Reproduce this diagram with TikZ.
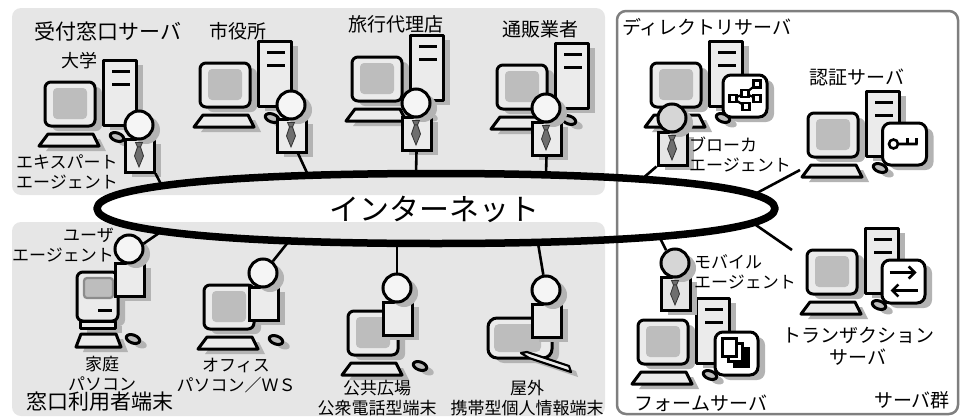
\documentclass[tikz,border=0pt]{standalone}
\usepackage{fontspec}
\usepackage{xcolor}
\usetikzlibrary{shadows,arrows.meta}

\newfontfamily\jp{Noto Sans CJK JP}

\definecolor{panelgray}{HTML}{E6E6E6}
\definecolor{partgray}{HTML}{EBEBEB}
\definecolor{screengray}{HTML}{BDBDBD}
\definecolor{shadegray}{HTML}{B3B3B3}
\definecolor{framegray}{HTML}{7F7F7F}
\definecolor{tiegray}{HTML}{6E6E6E}

\begin{document}
\begin{tikzpicture}[x=1pt, y=-1pt,
        cast/.style = {drop shadow={shadow xshift=7pt, shadow yshift=-5pt, fill=shadegray, opacity=1}},
        panel/.style = {fill=panelgray, rounded corners=9},
        part/.style = {draw, line width=3, line join=round, fill=partgray, cast},
        screen/.style = {fill=screengray},
        head/.style = {draw, circle, line width=3, fill=black!4, minimum size=28, inner sep=0, cast},
        body/.style = {draw, line width=3, fill=black!8, minimum width=29, minimum height=33, inner sep=0, cast},
        tie/.style = {draw=black!80, line width=0.8, fill=tiegray},
        badge/.style = {draw, line width=3, fill=white, rounded corners=8, cast},
        link/.style = {line width=2.6},
        ring/.style = {line width=7.5, line join=round},
        net/.style = {font=\jp\fontsize{30}{32}\selectfont, inner sep=0},
        title/.style = {font=\jp\fontsize{21}{24}\selectfont, inner sep=0},
        label/.style = {font=\jp\fontsize{19}{22}\selectfont, inner sep=0, align=center},
        note/.style = {font=\jp\fontsize{17}{20}\selectfont, inner sep=0, align=center},
        desk/.pic = {
            \draw[part, rounded corners=6] (0,0) rectangle (50,44);
            \fill[screen, rounded corners=4] (8,6) rectangle (42,37);
            \draw[part] (3,52) -- (48,52) -- (54,64) -- (-6,64) -- cycle;
            \draw[part, fill=screengray, rotate around={-20:(72,55)}] (72,55) ellipse [x radius=7, y radius=4];
        },
        pc/.pic = {
            \pic {desk};
            \draw[part] (58,-22) rectangle (91,43);
            \draw[line width=3] (67,-11) -- (85,-11) (67,2) -- (85,2);
        },
        mac/.pic = {
            \draw[part, rounded corners=6] (0,0) rectangle (41,49);
            \draw[screen, draw=black!45, line width=2.2, rounded corners=3] (7,6) rectangle (36,26);
            \draw[line width=3] (21,38) -- (35,38);
            \draw[part] (3,49) rectangle (38,56);
            \draw[part] (4,62) -- (39,62) -- (44,75) -- (-1,75) -- cycle;
            \draw[part, fill=screengray, rotate around={-20:(56,67)}] (56,67) ellipse [x radius=7, y radius=4];
        },
        user/.pic = {
            \node[body] (-body) at (0.5,30.5) {};
            \node[head] (-head) at (0,0) {};
        },
        agent/.pic = {
            \node[body] (-body) at (0.5,30.5) {};
            \node[head] (-head) at (0,0) {};
            \draw[tie] (-3.5,17.5) -- (3.5,17.5) -- (1.5,22) -- (-1.5,22) -- cycle;
            \draw[tie] (-1.5,22) -- (1.5,22) -- (4.5,31) -- (0,42) -- (-4.5,31) -- cycle;
        },
        netbadge/.pic = {
            \draw[badge] (-22,-21) rectangle (22,21);
            \draw[line width=2.2] (-12,2.5) -- (0,-2.5) -- (12,-12) (0,-2.5) -- (12,2.5) (-12,2.5) -- (1,10.5);
            \foreach \x/\y in {-12/2.5, 0/-2.5, 12/-12, 12/2.5, 1/10.5}
                \draw[line width=2.2, fill=white] (\x-3.5,\y-3.5) rectangle (\x+3.5,\y+3.5);
        },
        keybadge/.pic = {
            \draw[badge] (-22,-21) rectangle (22,21);
            \draw[line width=2.6] (-11,0) circle [radius=4.5] (-6.5,0) -- (13,0) (3,0) -- (3,-6) (12,0) -- (12,-6);
        },
        swapbadge/.pic = {
            \draw[badge] (-21.5,-21.5) rectangle (21.5,21.5);
            \draw[line width=2.6, -{Straight Barb[length=6pt, width=12pt]}] (-14,-9) -- (13,-9);
            \draw[line width=2.6, -{Straight Barb[length=6pt, width=12pt]}] (14,9) -- (-13,9);
        },
        formbadge/.pic = {
            \draw[badge] (-21.5,-21.5) rectangle (21.5,21.5);
            \draw[line width=2.2, fill=black] (-2,-5) rectangle (12,13);
            \draw[line width=2.2, fill=white] (-8,-10) rectangle (6,8);
            \draw[line width=2.2, fill=white] (-14,-15) rectangle (0,3);
        }]
        \useasboundingbox (0,0) rectangle (962,418);

        % the three areas
        \fill[panel] (12,8) rectangle (605,195);
        \fill[panel] (12,222) rectangle (605,416);
        \draw[framegray, line width=2.5, rounded corners=9] (617,11) rectangle (958,414);

        % reception servers
        \pic at (45,82) {pc};
        \pic at (200,63) {pc};
        \pic at (352,57) {pc};
        \pic at (497,65) {pc};
        \pic (expertag) at (139,125) {agent};
        \pic (cityag) at (291,105) {agent};
        \pic (travelag) at (416,103) {agent};
        \pic (shopag) at (546,108) {agent};

        % user terminals
        \pic at (77,272) {mac};
        \pic (homeag) at (129,249) {user};
        \pic at (204,285) {desk};
        \pic (officeag) at (263,273) {user};
        \pic at (348,311) {desk};
        \pic (kioskag) at (397,288) {user};
        \draw[part, rounded corners=9] (488,318) rectangle (552,358);
        \fill[screen, rounded corners=5] (494,324) rectangle (541,352);
        \draw[part, line width=2.2] (521,353) -- (527,352) -- (569,366) -- (571,372) -- (529,358) -- cycle;
        \pic (outdoorag) at (546,290) {user};

        % server group
        \begin{scope}[head/.append style={fill=black!16}, body/.append style={fill=black!10}]
            \pic at (651,63) {pc};
            \pic at (745,96) {netbadge};
            \pic (brokerag) at (672,118) {agent};
            \pic at (808,113) {pc};
            \pic at (904.5,144) {keybadge};
            \pic at (807,250) {pc};
            \pic at (903.5,281.5) {swapbadge};
            \pic at (638,320) {pc};
            \pic at (736.5,353.5) {formbadge};
            \pic (mobileag) at (675,263) {agent};
        \end{scope}

        % taps on the internet ring
        \coordinate (n1) at (162,186);
        \coordinate (n2) at (308,175);
        \coordinate (n3) at (416,174);
        \coordinate (n4) at (546,174);
        \coordinate (n5) at (162,231);
        \coordinate (n6) at (289,241);
        \coordinate (n7) at (397,243);
        \coordinate (n8) at (538,243);
        \coordinate (n9) at (642,179);
        \coordinate (n10) at (755,194);
        \coordinate (n11) at (753,223);
        \coordinate (n12) at (659,236);
        \coordinate (authin) at (800,170);
        \coordinate (transin) at (792,250);

        \draw[link] (expertag-body.south east) -- (n1);
        \draw[link] (cityag-body.-70) -- (n2);
        \draw[link] (travelag-body.south) -- (n3);
        \draw[link] (shopag-body.south) -- (n4);
        \draw[link] (homeag-head.20) -- (n5);
        \draw[link] (officeag-head.50) -- (n6);
        \draw[link] (kioskag-head.north) -- (n7);
        \draw[link] (outdoorag-head.100) -- (n8);
        \draw[link] (brokerag-body.south west) -- (n9);
        \draw[link] (authin) -- (n10);
        \draw[link] (transin) -- (n11);
        \draw[link] (mobileag-head.125) -- (n12);

        \draw[ring] (97,208.5) .. controls (97,186.5) and (226,173.5) .. (436,173.5)
            .. controls (646,173.5) and (775,186.5) .. (775,208.5)
            .. controls (775,230.5) and (646,243.5) .. (436,243.5)
            .. controls (226,243.5) and (97,230.5) .. (97,208.5) -- cycle;
        \node[net] (net) at (434,209) {インターネット};

        % labels
        \node[title] (gate) at (108,31) {受付窓口サーバ};
        \node[label] (city) at (238,31) {市役所};
        \node[label] (travel) at (396,24) {旅行代理店};
        \node[label] (shop) at (540,29) {通販業者};
        \node[label, font=\jp\fontsize{18}{20}\selectfont] (univ) at (79,61) {大学};
        \node[note, align=left, anchor=west] (expert) at (16,172) {エキスパート\\エージェント};
        \node[note, align=right, anchor=east] (useragent) at (114,245) {ユーザ\\エージェント};
        \node[note] (home) at (102,374) {家庭\\パソコン};
        \node[note] (office) at (236,376) {オフィス\\パソコン／ＷＳ};
        \node[title] (users) at (100,402) {窓口利用者端末};
        \node[note] (kiosk) at (377,398) {公共広場\\公衆電話型端末};
        \node[note] (outdoor) at (527,398) {屋外\\携帯型個人情報端末};
        \node[label] (dir) at (707,27) {ディレクトリサーバ};
        \node[label] (auth) at (857,77) {認証サーバ};
        \node[note, align=left, anchor=west] (broker) at (689,155) {ブローカ\\エージェント};
        \node[note, align=left, anchor=west] (mobile) at (694,272) {モバイル\\エージェント};
        \node[label] (trans) at (858,346) {トランザクション\\サーバ};
        \node[label] (form) at (701,403) {フォームサーバ};
        \node[label] (servers) at (912,400) {サーバ群};

    \end{tikzpicture}
\end{document}
